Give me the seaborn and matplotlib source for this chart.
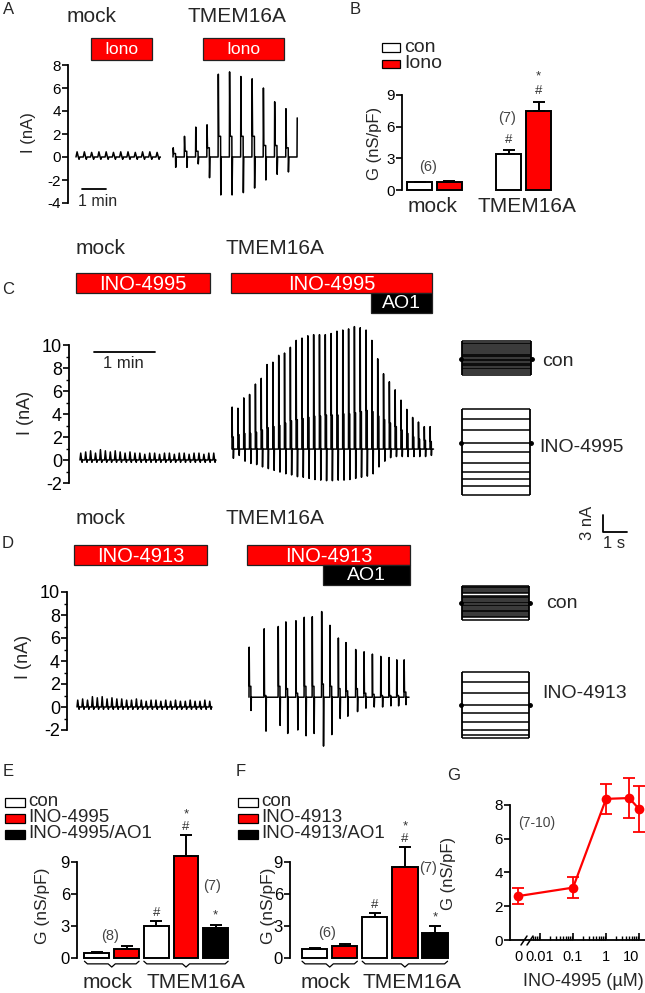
import numpy as np
import pandas as pd
import matplotlib
matplotlib.use("Agg")
import matplotlib.pyplot as plt
from matplotlib.lines import Line2D
from matplotlib.patches import Rectangle
from matplotlib.ticker import FixedLocator, MultipleLocator
import seaborn as sns

W, H = 645, 993
RED = "#ff0000"

# ---------------- values ----------------
# A: current (nA) at each voltage pulse
a_mock_peak = [0.45, 0.45, 0.4, 0.45, 0.45, 0.4, 0.45, 0.45, 0.4, 0.45, 0.45, 0.4]
a_mock_trough = [-0.2, -0.2, -0.2, -0.2, -0.2, -0.2, -0.2, -0.2, -0.2, -0.2, -0.2, -0.2]
a_tmem_peak = [0.8, 1.8, 2.6, 2.8, 7.2, 7.4, 7.0, 6.8, 6.0, 4.8, 4.2, 3.4]
a_tmem_trough = [-0.9, -0.9, -0.6, -1.8, -3.3, -3.3, -3.1, -2.7, -2.0, -1.5, -1.3, 0.0]
a_tmem_plateau = [0.3, 0.5, 0.5, 0.8, 1.8, 1.8, 1.8, 1.8, 1.0, 1.0, 0.8, 0.0]

# B: conductance (nS/pF)
b_slot = ["mock/con", "mock/Iono", "TMEM16A/con", "TMEM16A/Iono"]
b_cond = ["con", "Iono", "con", "Iono"]
b_mean = [0.72, 0.76, 3.4, 7.5]
b_sem = [0.04, 0.05, 0.4, 0.85]

# C: INO-4995 traces
c_mock_peak = [0.6, 0.7, 0.8, 0.6, 0.9, 0.8, 0.7, 0.8, 0.7, 0.6, 0.7, 0.6, 0.6, 0.5,
               0.6, 0.6, 0.5, 0.6, 0.6, 0.5, 0.6, 0.6, 0.5, 0.6, 0.6, 0.5, 0.6, 0.6]
c_mock_trough = [-0.2, -0.2, -0.2, -0.2, -0.2, -0.2, -0.2, -0.2, -0.2, -0.2, -0.2, -0.2, -0.2, -0.2,
                 -0.2, -0.2, -0.2, -0.2, -0.2, -0.2, -0.2, -0.2, -0.2, -0.2, -0.2, -0.2, -0.2, -0.2]
c_tmem_peak = [4.6, 4.5, 5.4, 5.7, 6.6, 7.1, 8.3, 8.5, 9.1, 9.3, 9.8, 10.4, 10.6, 10.8, 10.9,
               10.9, 10.9, 11.0, 11.2, 11.3, 11.4, 11.6, 11.5, 11.3, 10.4, 8.8, 7.5, 6.8, 6.1,
               5.2, 4.4, 3.7, 3.3, 2.9, 2.9]
c_tmem_trough = [0.15, 0.4, -0.1, -0.3, -0.4, -0.6, -0.75, -0.9, -1.05, -1.2, -1.3, -1.45, -1.5,
                 -1.6, -1.7, -1.75, -1.8, -1.8, -1.75, -1.75, -1.7, -1.6, -1.5, -1.4, -1.2, -0.6,
                 -0.1, 0.2, 0.3, 0.3, 0.3, 0.3, 0.3, 0.3, 0.4]
c_tmem_plateau = [2.0, 2.2, 2.3, 2.3, 2.4, 2.6, 2.8, 2.9, 3.0, 3.2, 3.4, 3.5, 3.6, 3.7, 3.8, 3.8,
                  3.9, 3.9, 3.9, 4.0, 4.0, 4.1, 4.2, 4.3, 4.2, 3.8, 3.5, 3.2, 2.9, 2.6, 2.3, 2.0,
                  1.8, 1.7, 1.6]
c_tmem_base = 0.95

# D: INO-4913 traces
d_mock_peak = [0.6, 0.7, 0.6, 0.9, 0.8, 0.9, 0.7, 0.8, 0.7, 0.7, 0.6, 0.6, 0.7, 0.6,
               0.5, 0.6, 0.6, 0.5, 0.6, 0.5, 0.6, 0.5, 0.5, 0.6, 0.5, 0.5, 0.6, 0.5]
d_mock_trough = c_mock_trough
d_tmem_time = [0.0, 1.79, 3.47, 4.38, 5.58, 6.57, 7.53, 8.65, 9.64, 10.64, 11.55, 12.71,
               13.71, 14.70, 15.70, 16.69, 17.61, 18.49]
d_tmem_peak = [5.2, 6.8, 7.0, 7.4, 7.5, 7.8, 7.85, 8.3, 7.1, 6.0, 5.6, 5.0, 4.8, 4.6, 4.4,
               4.3, 4.1, 4.1]
d_tmem_trough = [-0.3, -2.1, -1.6, -2.3, -2.0, -2.5, -2.3, -3.4, -2.4, -1.0, -0.8, -0.4,
                 -0.1, 0.0, 0.0, 0.1, 0.1, 0.2]
d_tmem_plateau = [1.8, 1.0, 1.8, 1.6, 1.2, 1.8, 1.8, 2.0, 1.8, 1.6, 1.4, 1.6, 1.2, 1.1, 1.0,
                  1.0, 1.0, 1.3]
d_tmem_base = 0.85

# current families (nA level of each sweep)
c_con_levels = [3.1, 2.8, 2.6, 2.2, 1.9, 1.6, 1.2, 0.95, 0.75, 0.5, 0.35, 0.0, -0.2, -0.4,
                -0.7, -0.85, -1.0, -1.3, -1.5, -1.75, -2.15, -2.45, -2.75]
c_ino_levels = [6.0, 4.2, 2.3, 0.0, -1.6, -3.5, -5.1, -6.3, -7.5, -9.1]
d_con_levels = [3.0, 2.8, 2.6, 2.2, 2.0, 1.75, 1.3, 1.1, 0.9, 0.45, 0.2, 0.0, -0.4, -0.6,
                -0.8, -1.2, -1.4, -1.6, -2.0, -2.2, -2.4, -2.9]
d_ino_levels = [5.8, 4.0, 2.1, 0.0, -1.4, -3.0, -4.4, -5.3, -5.8]

# E / F: conductance (nS/pF)
e_slot = ["mock/con", "mock/INO", "TMEM16A/con", "TMEM16A/INO", "TMEM16A/AO1"]
e_cond = ["con", "INO-4995", "con", "INO-4995", "INO-4995/AO1"]
e_mean = [0.5, 0.85, 3.0, 9.6, 2.8]
e_sem = [0.05, 0.25, 0.45, 1.9, 0.3]

f_slot = ["mock/con", "mock/INO", "TMEM16A/con", "TMEM16A/INO", "TMEM16A/AO1"]
f_cond = ["con", "INO-4913", "con", "INO-4913", "INO-4913/AO1"]
f_mean = [0.85, 1.1, 3.85, 8.5, 2.35]
f_sem = [0.08, 0.2, 0.4, 1.9, 0.65]

# G: concentration response
g_conc = [0, 0.1, 1, 5, 10]
g_mean = [2.6, 3.1, 8.35, 8.4, 7.75]
g_sem = [0.45, 0.6, 0.9, 1.2, 1.35]

# ---------------- style ----------------
sns.set_theme(style="ticks", rc={"axes.edgecolor": "black", "axes.linewidth": 1.3,
                                 "xtick.color": "black", "ytick.color": "black"})
plt.rcParams["font.family"] = ["Liberation Sans", "DejaVu Sans"]
plt.rcParams["axes.unicode_minus"] = False

fig = plt.figure(figsize=(W / 100, H / 100), dpi=100)


def add_ax(x0, y0, x1, y1):
    ax = fig.add_axes([x0 / W, 1 - y1 / H, (x1 - x0) / W, (y1 - y0) / H])
    ax.patch.set_visible(False)
    return ax


def txt(x, y, s, size, **kw):
    kw.setdefault("ha", "center")
    kw.setdefault("va", "center")
    fig.text(x / W, 1 - y / H, s, fontsize=size, **kw)


def seg(xs, ys, lw=1.3, color="black"):
    fig.add_artist(Line2D([x / W for x in xs], [1 - y / H for y in ys], lw=lw,
                          color=color, transform=fig.transFigure))


def box(x0, y0, x1, y1, color, label=None, size=14, edge="#222222"):
    fig.add_artist(Rectangle((x0 / W, 1 - y1 / H), (x1 - x0) / W, (y1 - y0) / H,
                             transform=fig.transFigure, facecolor=color,
                             edgecolor=edge, lw=0.9))
    if label:
        txt((x0 + x1) / 2, (y0 + y1) / 2 + 1, label, size, color="white")


SPIKE = (0.0, 0.02, 0.06, 0.22, 0.24, 0.28)
TOOTH = (0.0, 0.15, 0.32, 0.32, 0.42, 0.52)


def pulse_df(times, peak, trough, plateau, base, shape, tail=0.6, end_on_peak=False):
    t, v = [], []
    for ti, p, tr, pl in zip(times, peak, trough, plateau):
        for dt, val in zip(shape, (base, p, pl, pl, tr, base)):
            t.append(ti + dt)
            v.append(val)
    if end_on_peak:
        t, v = t[:-4], v[:-4]
    else:
        t.append(times[-1] + tail)
        v.append(base)
    return pd.DataFrame({"t": t, "I": v})


def draw_trace(df, times, x_first, x_last, y_top, y_bot, ylim, tail=0.6):
    k = (x_last - x_first) / (times[-1] - times[0])
    ax = add_ax(x_first - 0.2 * k, y_top, x_last + tail * k, y_bot)
    sns.lineplot(data=df, x="t", y="I", ax=ax, color="black", lw=1.1,
                 estimator=None, sort=False, clip_on=False)
    ax.set_xlim(times[0] - 0.2, times[-1] + tail)
    ax.set_ylim(*ylim)
    ax.axis("off")


def y_spine(x, y_top, y_bot, ylim, major, minor, size):
    ax = add_ax(x, y_top, x + 2, y_bot)
    ax.set_ylim(*ylim)
    ax.set_yticks(major)
    if minor:
        ax.yaxis.set_minor_locator(MultipleLocator(minor))
    ax.set_xticks([])
    sns.despine(ax=ax, bottom=True)
    ax.tick_params(axis="y", labelsize=size, length=4, width=1.2, pad=1)
    ax.tick_params(axis="y", which="minor", length=2.5, width=1.0)
    return ax


def inset(levels, x0, x1, yc, scale=5.7):
    lo, hi = min(levels), max(levels)
    ax = add_ax(x0, yc - hi * scale, x1, yc - lo * scale)
    ax.hlines(levels, 0, 1, color="black", lw=1.1, clip_on=False)
    ax.vlines([0, 1], lo, hi, color="black", lw=1.3, clip_on=False)
    ax.plot([-0.02, 1.02], [0, 0], "o", ms=2.5, color="black", clip_on=False)
    ax.set_xlim(0, 1)
    ax.set_ylim(lo, hi)
    ax.axis("off")


def bar_panel(bx, slots, conds, means, sems, order, palette, xlim, ylim, yticks, tsize):
    ax = add_ax(*bx)
    df = pd.DataFrame({"slot": slots, "cond": conds, "G": means})
    sns.barplot(data=df, x="slot", y="G", hue="cond", order=order, palette=palette,
                dodge=False, width=0.84, saturation=1, edgecolor="black", linewidth=1.4,
                errorbar=None, legend=False, ax=ax)
    for p in ax.patches:
        p.set_clip_on(False)
    xs = [order.index(s) for s in slots]
    eb = ax.errorbar(xs, means, yerr=[[0] * len(means), sems], fmt="none", ecolor="black",
                     elinewidth=1.4, capsize=4, capthick=1.4)
    for a in eb.get_children():
        a.set_clip_on(False)
    ax.set_xlim(*xlim)
    ax.set_ylim(*ylim)
    ax.set_yticks(yticks)
    ax.set_xticks([])
    ax.set_xlabel("")
    ax.set_ylabel("")
    sns.despine(ax=ax, bottom=True)
    ax.tick_params(axis="y", labelsize=tsize, length=4, width=1.2, pad=1)
    return ax, xs


def marks(ax, x, top, symbols):
    for s, dpx in symbols:
        ax.annotate(s, (x, top), xytext=(0, dpx * 0.72), textcoords="offset points",
                    ha="center", va="center", fontsize=9.5, color="#333333",
                    annotation_clip=False)


def brace(ax, a, b):
    m = (a + b) / 2
    ax.plot([a, a + 0.1, m - 0.12, m, m + 0.12, b - 0.1, b],
            [-0.3, -0.55, -0.55, -0.85, -0.55, -0.55, -0.3],
            color="black", lw=0.9, clip_on=False)


GRAY = "#444444"

# ---------------- A ----------------
txt(3, 9, "A", 12, ha="left")
txt(92, 17, "mock", 15)
txt(237, 17, "TMEM16A", 15)
box(91, 38, 152, 60, RED, "Iono", 12.5)
box(203, 38, 284, 60, RED, "Iono", 12.5)
y_spine(68, 65, 203, (-4, 8), [-4, -2, 0, 2, 4, 6, 8], None, 11)
txt(28, 133, "I (nA)", 12, rotation=90)
t = list(range(len(a_mock_peak)))
draw_trace(pulse_df(t, a_mock_peak, a_mock_trough, [0] * len(t), 0.0, TOOTH),
           t, 76, 156, 65, 203, (-4, 8))
t = list(range(len(a_tmem_peak)))
draw_trace(pulse_df(t, a_tmem_peak, a_tmem_trough, a_tmem_plateau, 0.0, SPIKE, end_on_peak=True),
           t, 173, 297, 65, 203, (-4, 8), tail=0.02)
seg([82, 106], [189, 189])
txt(98, 202, "1 min", 11.5)

# ---------------- B ----------------
txt(350, 9, "B", 12, ha="left")
box(382, 43, 400, 52, "white", edge="black")
txt(404, 47, "con", 14, ha="left")
box(382, 60, 400, 68, RED, edge="black")
txt(404, 64, "Iono", 14, ha="left")
b_order = ["mock/con", "mock/Iono", "", "TMEM16A/con", "TMEM16A/Iono"]
ax_b, xs = bar_panel((402, 95, 555, 190), b_slot, b_cond, b_mean, b_sem, b_order,
                     {"con": "white", "Iono": RED}, (-0.59, 4.55), (0, 9), [0, 3, 6, 9], 11)
marks(ax_b, xs[2], b_mean[2] + b_sem[2], [("#", 10)])
marks(ax_b, xs[3], b_mean[3] + b_sem[3], [("#", 11), ("*", 25)])
txt(375, 143, "G (nS/pF)", 12, rotation=90)
txt(428, 167, "(6)", 10.5, color=GRAY)
txt(507, 118, "(7)", 10.5, color=GRAY)
txt(433, 207, "mock", 15)
txt(527, 207, "TMEM16A", 15)

# ---------------- C ----------------
txt(101, 248, "mock", 15)
txt(275, 248, "TMEM16A", 15)
txt(2, 290, "C", 12, ha="left")
box(76, 273, 210, 293, RED, "INO-4995", 14.5)
box(231, 273, 432, 293, RED, "INO-4995", 14.5)
box(371, 293, 432, 313, "black", "AO1", 14)
y_spine(69, 345, 483, (-2, 10), [-2, 0, 2, 4, 6, 8, 10], 1, 13)
txt(25, 413, "I (nA)", 13, rotation=90)
t = list(range(len(c_mock_peak)))
draw_trace(pulse_df(t, c_mock_peak, c_mock_trough, [0] * len(t), 0.0, TOOTH),
           t, 80, 213, 345, 483, (-2, 10))
t = list(range(len(c_tmem_peak)))
draw_trace(pulse_df(t, c_tmem_peak, c_tmem_trough, c_tmem_plateau, c_tmem_base, SPIKE),
           t, 232, 430, 345, 483, (-2, 10))
seg([94, 155], [352, 352])
txt(123, 364, "1 min", 12)
inset(c_con_levels, 462, 531, 359)
inset(c_ino_levels, 462, 530, 443)
txt(542, 361, "con", 14, ha="left")
txt(539, 447, "INO-4995", 14, ha="left")
seg([603, 603, 627], [515, 532, 532])
txt(587, 523, "3 nA", 12, rotation=90)
txt(614, 544, "1 s", 12)

# ---------------- D ----------------
txt(101, 518, "mock", 15)
txt(275, 518, "TMEM16A", 15)
txt(2, 544, "D", 12, ha="left")
box(74, 545, 207, 565, RED, "INO-4913", 14.5)
box(247, 545, 410, 565, RED, "INO-4913", 14.5)
box(323, 565, 410, 585, "black", "AO1", 14)
y_spine(67, 592, 730, (-2, 10), [-2, 0, 2, 4, 6, 8, 10], 1, 13)
txt(24, 657, "I (nA)", 13, rotation=90)
t = list(range(len(d_mock_peak)))
draw_trace(pulse_df(t, d_mock_peak, d_mock_trough, [0] * len(t), 0.0, TOOTH),
           t, 77, 209, 592, 730, (-2, 10))
draw_trace(pulse_df(d_tmem_time, d_tmem_peak, d_tmem_trough, d_tmem_plateau, d_tmem_base, SPIKE),
           d_tmem_time, 249, 404, 592, 730, (-2, 10))
inset(d_con_levels, 462, 529, 603)
inset(d_ino_levels, 462, 529, 705)
txt(546, 603, "con", 14, ha="left")
txt(542, 693, "INO-4913", 14, ha="left")

# ---------------- E / F ----------------
for (lx, tx, letter, labels, cols) in [
        (5, 28, "E", ["con", "INO-4995", "INO-4995/AO1"], ["white", RED, "black"]),
        (238, 261, "F", ["con", "INO-4913", "INO-4913/AO1"], ["white", RED, "black"])]:
    txt(lx - 2, 772, letter, 12, ha="left")
    for (yc, lab, col) in zip([802, 818, 834], labels, cols):
        box(lx, yc - 4.5, lx + 20, yc + 4.5, col, edge="black")
        txt(tx, yc, lab, 13.5, ha="left")

for (bx, slots, conds, means, sems, drug, xlim, ylab_x, n_mock, n_tm, lab_x) in [
        ((77, 862, 232, 958), e_slot, e_cond, e_mean, e_sem, "INO-4995", (-0.67, 4.55), 43,
         (110, 936), (212, 886), (108, 196)),
        ((290, 862, 450, 958), f_slot, f_cond, f_mean, f_sem, "INO-4913", (-0.82, 4.5), 268,
         (327, 933), (428, 868), (326, 412))]:
    pal = {"con": "white", drug: RED, drug + "/AO1": "black"}
    ax, xs = bar_panel(bx, slots, conds, means, sems, slots, pal, xlim, (0, 9), [0, 3, 6, 9], 12)
    marks(ax, xs[2], means[2] + sems[2], [("#", 8)])
    marks(ax, xs[3], means[3] + sems[3], [("#", 8), ("*", 21)])
    marks(ax, xs[4], means[4] + sems[4], [("*", 9)])
    brace(ax, xs[0] - 0.42, xs[1] + 0.42)
    brace(ax, xs[2] - 0.42, xs[4] + 0.42)
    txt(ylab_x, 906, "G (nS/pF)", 12.5, rotation=90)
    txt(*n_mock, "(8)" if drug == "INO-4995" else "(6)", 10.5, color=GRAY)
    txt(*n_tm, "(7)", 10.5, color=GRAY)
    txt(lab_x[0], 982, "mock", 15)
    txt(lab_x[1], 982, "TMEM16A", 15)

# ---------------- G ----------------
G_ZERO = 0.0022  # plotting position of the "0" concentration left of the axis break
txt(447, 775, "G", 12, ha="left")
ax_g = add_ax(510, 771, 660, 940)
g_x = [c if c > 0 else G_ZERO for c in g_conc]
sns.lineplot(x=g_x, y=g_mean, ax=ax_g, color=RED, lw=1.6, marker="o", markersize=7,
             markeredgewidth=0, estimator=None, sort=False)
ax_g.errorbar(g_x, g_mean, yerr=g_sem, fmt="none", ecolor=RED, elinewidth=1.3,
              capsize=4, capthick=1.3)
ax_g.set_xscale("log")
ax_g.set_xlim(0.00123, 43)
ax_g.set_ylim(0, 10)
ax_g.set_yticks([0, 2, 4, 6, 8])
ax_g.spines["left"].set_bounds(0, 8)
sns.despine(ax=ax_g)
ax_g.xaxis.set_major_locator(FixedLocator([G_ZERO, 0.01, 0.1, 1, 10]))
ax_g.set_xticklabels(["0", "0.01", "0.1", "1", "10"])
ax_g.get_xticklabels()[-1].set_horizontalalignment("right")
ax_g.xaxis.set_minor_locator(FixedLocator(
    [k * 10.0 ** e for e in (-3, -2, -1, 0) for k in range(2, 10) if k * 10.0 ** e > 0.0055]
    + [20]))
ax_g.xaxis.set_minor_formatter(plt.NullFormatter())
ax_g.tick_params(axis="x", which="both", direction="in", labelsize=10.5, pad=7)
ax_g.tick_params(axis="x", which="major", length=5, width=1.2)
ax_g.tick_params(axis="x", which="minor", length=3, width=1.0)
ax_g.tick_params(axis="y", labelsize=11, length=4, width=1.2, pad=1)
ax_g.xaxis.get_major_ticks()[0].tick1line.set_visible(False)
ax_g.set_xlabel("")
ax_g.set_ylabel("")
seg([521, 527], [945, 936], lw=1.1)
seg([527, 533], [945, 936], lw=1.1)
txt(448, 873, "G (nS/pF)", 12, rotation=90)
txt(583, 982, "INO-4995 (µM)", 13)
txt(537, 823, "(7-10)", 10, color=GRAY)

fig.savefig("out.png", dpi=100)
